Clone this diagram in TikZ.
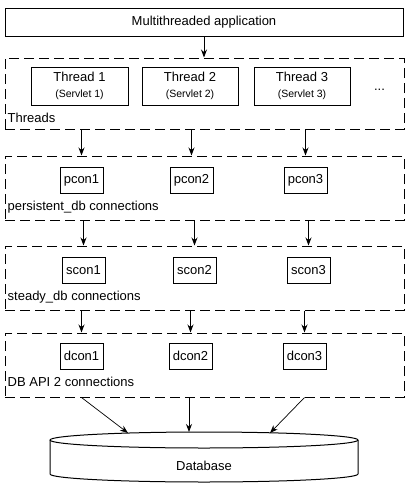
\documentclass[tikz,border=0pt]{standalone}
\usepackage{fontspec}
\setmainfont{Liberation Sans}
\usetikzlibrary{arrows.meta}
\tikzset{Tbox/.style={draw,line width=1pt,inner sep=0pt,font=\fontsize{13}{15}\selectfont},
	Fbox/.style={draw,line width=1pt,dash pattern=on 10pt off 5pt,inner sep=0pt,minimum width=399pt},
	Flabel/.style={anchor=west,inner sep=0pt,font=\fontsize{13}{15}\selectfont},
	Carrow/.style={-{Stealth[length=8pt,width=6pt]},line width=1pt}}

\begin{document}
\begin{tikzpicture}[x=1pt,y=-1pt]
	\useasboundingbox (0,0) rectangle (410,490);
	\node[Tbox,minimum width=398pt,minimum height=28pt] (App) at (204,22) {Multithreaded application};
	%
	\node[Fbox,minimum height=71pt] (Threads) at (204.5,93.5) {};
	\node[Tbox,minimum width=97pt,minimum height=38pt,align=center] (T1) at (79.5,86) {Thread 1\\[1pt]{\fontsize{10.5}{12}\selectfont (Servlet 1)}};
	\node[Tbox,minimum width=96pt,minimum height=38pt,align=center] (T2) at (190,86) {Thread 2\\[1pt]{\fontsize{10.5}{12}\selectfont (Servlet 2)}};
	\node[Tbox,minimum width=96pt,minimum height=38pt,align=center] (T3) at (302,86) {Thread 3\\[1pt]{\fontsize{10.5}{12}\selectfont (Servlet 3)}};
	\node[Flabel,anchor=center] (Tdots) at (379.5,90) {...};
	\node[Flabel] (Tlabel) at (7.5,118) {Threads};
	%
	\node[Fbox,minimum height=64pt] (PC) at (204.5,188) {};
	\node[Tbox,minimum width=43pt,minimum height=26pt] (P1) at (81.5,180) {pcon1};
	\node[Tbox,minimum width=43pt,minimum height=26pt] (P2) at (191.5,180) {pcon2};
	\node[Tbox,minimum width=43pt,minimum height=26pt] (P3) at (305.5,180) {pcon3};
	\node[Flabel] (Plabel) at (7.5,207) {persistent\_db connections};
	%
	\node[Fbox,minimum height=64pt] (SC) at (204.5,278) {};
	\node[Tbox,minimum width=43pt,minimum height=26pt] (S1) at (83.5,270) {scon1};
	\node[Tbox,minimum width=43pt,minimum height=26pt] (S2) at (194.5,270) {scon2};
	\node[Tbox,minimum width=43pt,minimum height=26pt] (S3) at (308.5,270) {scon3};
	\node[Flabel] (Slabel) at (7.5,297) {steady\_db connections};
	%
	\node[Fbox,minimum height=64pt] (DC) at (204.5,365) {};
	\node[Tbox,minimum width=43pt,minimum height=26pt] (D1) at (81.5,356) {dcon1};
	\node[Tbox,minimum width=43pt,minimum height=26pt] (D2) at (190.5,356) {dcon2};
	\node[Tbox,minimum width=43pt,minimum height=26pt] (D3) at (304.5,356) {dcon3};
	\node[Flabel] (Dlabel) at (7.5,382) {DB API 2 connections};
	%
	% database
	\draw[line width=1pt] (204,440) ellipse [x radius=154pt,y radius=8pt];
	\draw[line width=1pt] (50,440) -- (50,474) arc[start angle=180,end angle=360,x radius=154pt,y radius=8pt] -- (358,440);
	\node[Flabel,anchor=center] (DB) at (204,466) {Database};
	\coordinate (DBa) at (128,433);
	\coordinate (DBb) at (189,432);
	\coordinate (DBc) at (270,433);
	%
	\path[Carrow]
	(App.south) edge (App.south |- Threads.north)
	(P1 |- Threads.south) edge (P1 |- PC.north)
	(P2 |- Threads.south) edge (P2 |- PC.north)
	(P3 |- Threads.south) edge (P3 |- PC.north)
	(S1 |- PC.south) edge (S1 |- SC.north)
	(S2 |- PC.south) edge (S2 |- SC.north)
	(S3 |- PC.south) edge (S3 |- SC.north)
	(D1 |- SC.south) edge (D1 |- DC.north)
	(D2 |- SC.south) edge (D2 |- DC.north)
	(D3 |- SC.south) edge (D3 |- DC.north)
	(D1 |- DC.south) edge[line width=0.7pt] (DBa)
	(DBb |- DC.south) edge (DBb)
	(D3 |- DC.south) edge[line width=0.7pt] (DBc);
\end{tikzpicture}
\end{document}
